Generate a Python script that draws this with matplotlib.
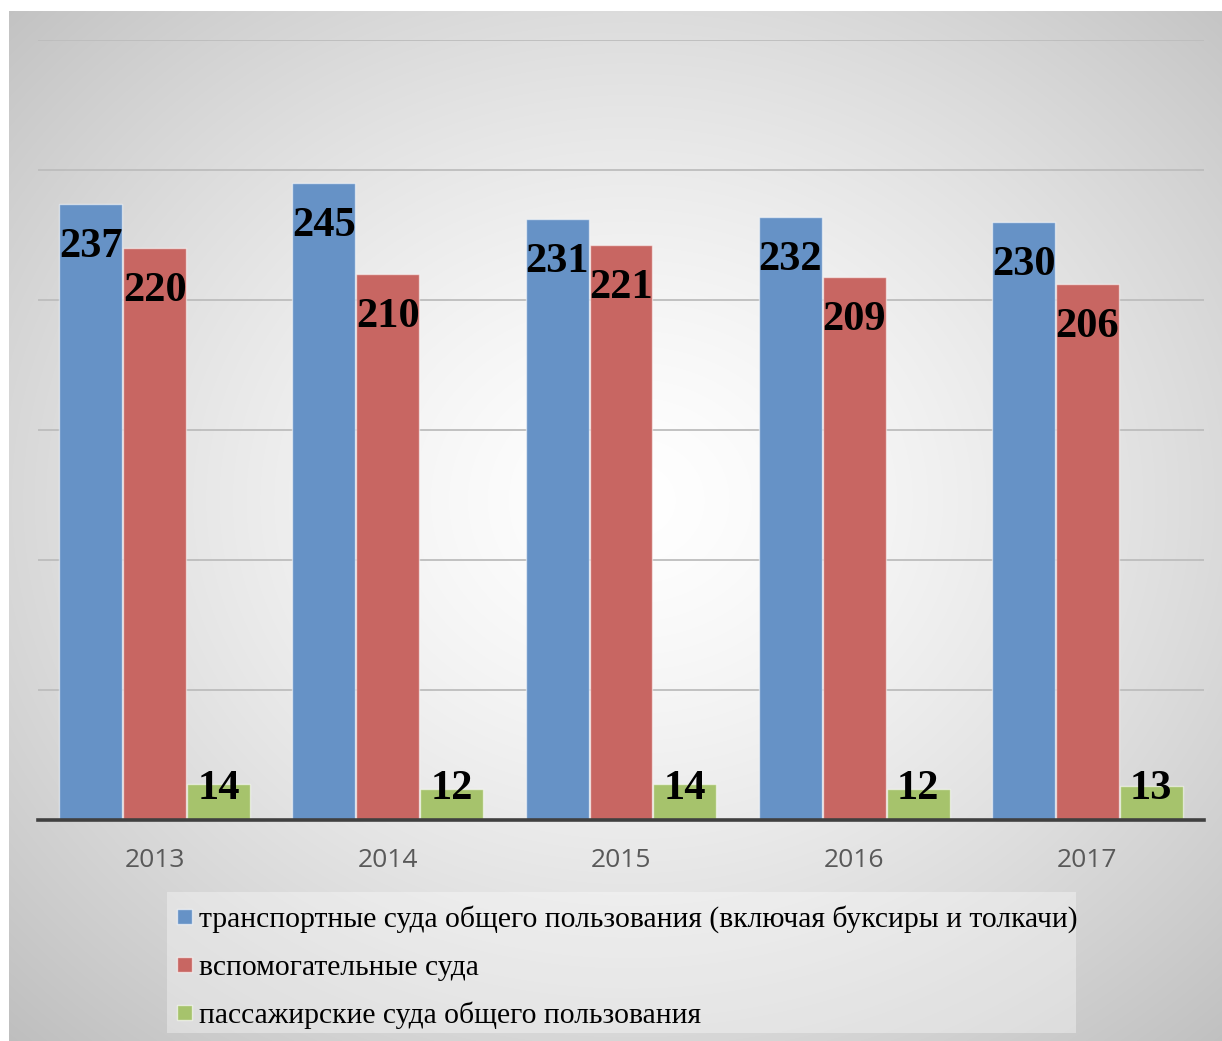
import numpy as np
import matplotlib
matplotlib.use("Agg")
import matplotlib.pyplot as plt
from matplotlib.patches import Rectangle

# ---- data ----
years = ["2013", "2014", "2015", "2016", "2017"]
transport = [237, 245, 231, 232, 230]
auxiliary = [220, 210, 221, 209, 206]
passenger = [14, 12, 14, 12, 13]
series_names = [
    "транспортные суда общего пользования (включая буксиры и толкачи)",
    "вспомогательные суда",
    "пассажирские суда общего пользования",
]
colors = ["#6692c6", "#c86662", "#a6c36c"]

W, H = 1222, 1041
fig = plt.figure(figsize=(W / 100, H / 100), dpi=100)
fig.patch.set_facecolor("white")

def fx(x):
    return x / W

def fy(y):
    return 1 - y / H

# background radial gradient
bx0, by0, bx1, by1 = 9, 11, 1222, 1041
bg = fig.add_axes([fx(bx0), fy(by1), fx(bx1 - bx0), (by1 - by0) / H], zorder=-10)
yy, xx = np.mgrid[by0:by1, bx0:bx1]
cx, cy = 630, 500
r = np.sqrt(((xx - cx) / 610.0) ** 2 + ((yy - cy) / 520.0) ** 2)
v = 1 - 0.15 * r ** 1.4
v = np.clip(v, 0, 1)
img = np.dstack([v, v, v])
bg.imshow(img, aspect="auto", interpolation="bilinear")
bg.axis("off")

# main axes
ax = fig.add_axes([fx(38), fy(820), fx(1204 - 38), (820 - 40) / H])
ax.patch.set_alpha(0)
x = np.arange(len(years))
bw = 0.27
off = 0.274
all_series = [transport, auxiliary, passenger]
for i, (vals, c) in enumerate(zip(all_series, colors)):
    ax.bar(x + (i - 1) * off, vals, width=bw, color=c,
           edgecolor=(1, 1, 1, 0.55), linewidth=1.0, zorder=3)

ax.set_xlim(-0.5, len(years) - 0.5)
ax.set_ylim(0, 300)
ax.set_yticks(np.arange(0, 301, 50))
ax.yaxis.grid(True, color="#bdbdbd", linewidth=1.3, zorder=0)
ax.set_axisbelow(True)
ax.tick_params(axis="y", left=False, labelleft=False)
ax.set_xticks(x)
ax.set_xticklabels(years, fontfamily="Open Sans", fontsize=19, color="#595959")
ax.tick_params(axis="x", length=0, pad=20)
for s in ["top", "left", "right"]:
    ax.spines[s].set_visible(False)
ax.spines["bottom"].set_color("#404040")
ax.spines["bottom"].set_linewidth(2.6)
ax.spines["bottom"].set_zorder(5)

# data labels
lab_kw = dict(fontfamily="Liberation Serif", fontweight="bold", fontsize=30.5,
              color="black", ha="center", va="baseline", zorder=6)
for i, vals in enumerate(all_series):
    for xi, val in zip(x, vals):
        xpos = xi + (i - 1) * off
        if i < 2:
            ax.annotate(str(val), (xpos, val), xytext=(0, -38.2),
                        textcoords="offset points", **lab_kw)
        else:
            ax.annotate(str(val), (xpos, 0), xytext=(0, 15.1),
                        textcoords="offset points", **lab_kw)

# legend (manual)
fig.patches.append(Rectangle((fx(167), fy(1033)), fx(1076 - 167), (1033 - 892) / H,
                             transform=fig.transFigure, facecolor="white",
                             alpha=0.35, edgecolor="none", zorder=1))
rows_base = [927, 975, 1023]
rows_mark = [916, 964, 1012]
for name, c, yb, ym in zip(series_names, colors, rows_base, rows_mark):
    fig.patches.append(Rectangle((fx(177), fy(ym + 7.5)), fx(15), 15 / H,
                                 transform=fig.transFigure, facecolor=c,
                                 edgecolor=(1, 1, 1, 0.6), linewidth=1, zorder=2))
    fig.text(fx(199), fy(yb), name, fontfamily="Liberation Serif", fontsize=21.3,
             color="black", ha="left", va="baseline", zorder=3)

fig.savefig("out.png", dpi=100)
